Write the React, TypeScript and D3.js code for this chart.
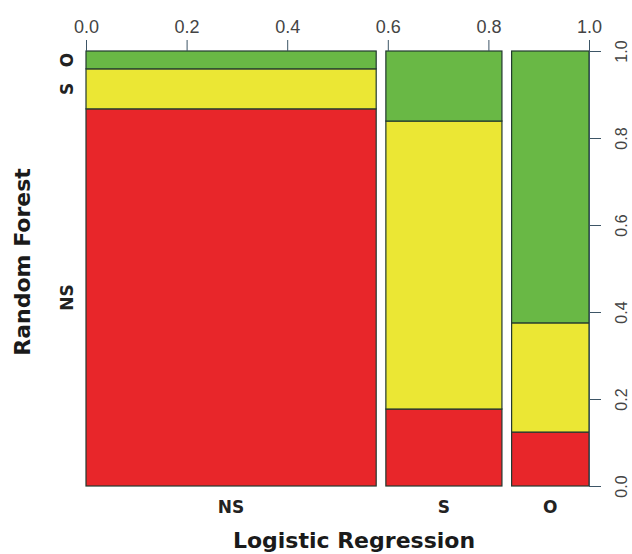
import React, { useEffect, useRef } from "react";
import * as d3 from "d3";

const width = 632;
const height = 554;
const margin = { top: 51, right: 43, bottom: 68, left: 86 };

// Logistic Regression classes (columns) and their share of cases
const lrClasses = ["NS", "S", "O"];
const lrShare = [0.6, 0.24, 0.16];

// Random Forest classes (stacked bottom -> top), share within each LR column
const rfClasses = ["NS", "S", "O"];
const rfNS = [0.867, 0.177, 0.124];
const rfS = [0.092, 0.662, 0.251];
const rfO = [0.041, 0.161, 0.625];

const topTicks = [0, 0.2, 0.4, 0.6, 0.8, 1.0];
const rightTicks = [0, 0.2, 0.4, 0.6, 0.8, 1.0];

const gap = 0.02;
const colors = ["#e8262a", "#ebe734", "#69b845"];

export default function App() {
  const ref = useRef<SVGSVGElement>(null);

  useEffect(() => {
    const svg = d3.select(ref.current);
    svg.selectAll("*").remove();

    const x0 = margin.left;
    const x1 = width - margin.right;
    const y0 = height - margin.bottom;
    const y1 = margin.top;

    // top axis scale spans the whole plot, columns use a scale that includes gaps
    const xTop = d3.scaleLinear().domain([0, 1]).range([x0, x1]);
    const xBar = d3.scaleLinear().domain([0, 1 + gap * (lrClasses.length - 1)]).range([x0, x1]);
    const y = d3.scaleLinear().domain([0, 1]).range([y0, y1]);

    const rows = lrClasses.map((c, i) => ({
      lr: c,
      NS: rfNS[i],
      S: rfS[i],
      O: rfO[i],
      start: d3.sum(lrShare.slice(0, i)) + gap * i,
      w: lrShare[i],
    }));

    const stacked = d3.stack<any>().keys(rfClasses)(rows);

    const g = svg.append("g");
    stacked.forEach((layer, li) => {
      g.selectAll(null)
        .data(layer)
        .join("rect")
        .attr("x", (d: any) => xBar(d.data.start))
        .attr("width", (d: any) => xBar(d.data.start + d.data.w) - xBar(d.data.start))
        .attr("y", (d: any) => y(d[1]))
        .attr("height", (d: any) => y(d[0]) - y(d[1]))
        .attr("fill", colors[li])
        .attr("stroke", "#22392f")
        .attr("stroke-width", 1.2);
    });

    // ------- top axis -------
    const topAxis = svg.append("g")
      .attr("transform", `translate(0,${y1})`)
      .call(d3.axisTop(xTop).tickValues(topTicks).tickFormat(d3.format(".1f")).tickSize(11).tickPadding(7));
    topAxis.select(".domain").remove();
    topAxis.selectAll("line").attr("stroke", "#3d5566");
    topAxis.selectAll("text")
      .attr("font-family", "Liberation Sans, Arial, sans-serif")
      .attr("font-size", 18)
      .attr("fill", "#444");

    // ------- right axis -------
    const rightAxis = svg.append("g")
      .attr("transform", `translate(${x1},0)`)
      .call(d3.axisRight(y).tickValues(rightTicks).tickFormat(d3.format(".1f")).tickSize(12).tickSizeOuter(0));
    rightAxis.select(".domain").attr("stroke", "#3d5566");
    rightAxis.selectAll("line").attr("stroke", "#3d5566");
    rightAxis.selectAll("text")
      .attr("x", 0)
      .attr("dy", null)
      .attr("transform", "translate(32,0) rotate(-90)")
      .attr("text-anchor", "middle")
      .attr("dominant-baseline", "central")
      .attr("font-family", "Liberation Sans, Arial, sans-serif")
      .attr("font-size", 16)
      .attr("fill", "#444");

    // ------- bottom category labels -------
    svg.append("g")
      .selectAll("text")
      .data(rows)
      .join("text")
      .attr("x", (d) => (xBar(d.start) + xBar(d.start + d.w)) / 2)
      .attr("y", 513)
      .attr("text-anchor", "middle")
      .attr("font-family", "DejaVu Sans, Verdana, sans-serif")
      .attr("font-weight", "bold")
      .attr("font-size", 17)
      .attr("fill", "#222")
      .text((d) => d.lr);

    // ------- left category labels (first column) -------
    const first = stacked.map((layer, li) => ({ name: rfClasses[li], mid: (layer[0][0] + layer[0][1]) / 2 }));
    svg.append("g")
      .selectAll("text")
      .data(first)
      .join("text")
      .attr("transform", (d) => `translate(67,${y(d.mid)}) rotate(-90)`)
      .attr("text-anchor", "middle")
      .attr("dominant-baseline", "central")
      .attr("font-family", "DejaVu Sans, Verdana, sans-serif")
      .attr("font-weight", "bold")
      .attr("font-size", 17)
      .attr("fill", "#222")
      .text((d) => d.name);

    // ------- axis titles -------
    svg.append("text")
      .attr("x", 354)
      .attr("y", 548)
      .attr("text-anchor", "middle")
      .attr("font-family", "DejaVu Sans, Verdana, sans-serif")
      .attr("font-weight", "bold")
      .attr("font-size", 22)
      .attr("fill", "#1a1a1a")
      .text("Logistic Regression");

    svg.append("text")
      .attr("transform", `translate(30,262) rotate(-90)`)
      .attr("text-anchor", "middle")
      .attr("font-family", "DejaVu Sans, Verdana, sans-serif")
      .attr("font-weight", "bold")
      .attr("font-size", 22)
      .attr("fill", "#1a1a1a")
      .text("Random Forest");
  }, []);

  return (
    <svg
      ref={ref}
      width={width}
      height={height}
      style={{ position: "absolute", left: 0, top: 0, background: "#fff" }}
    />
  );
}
